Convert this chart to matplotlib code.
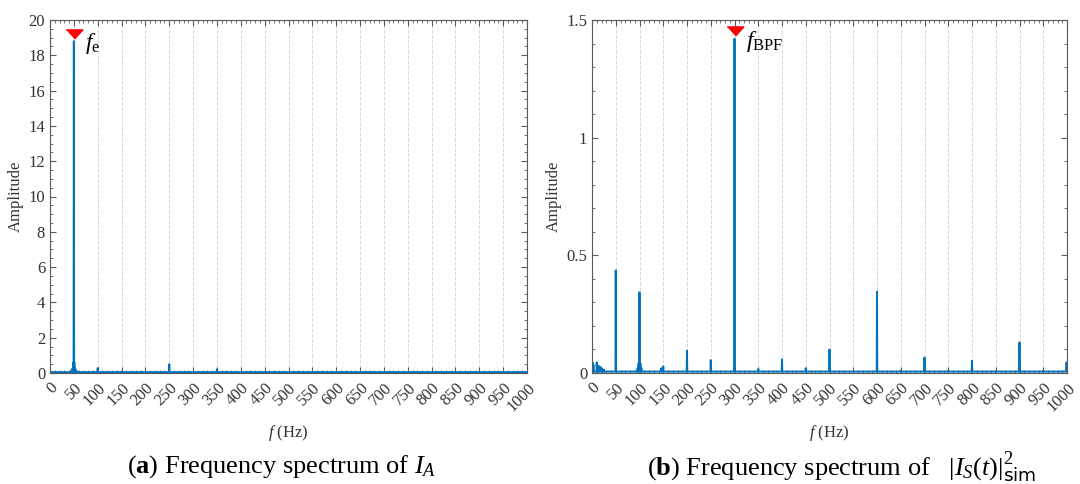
import numpy as np
import matplotlib.pyplot as plt
from matplotlib.ticker import MultipleLocator

# ============================================
# region 1. Data
ticks_f = np.arange(0, 1001, 50)

# (a) spectrum of I_A : peak frequency (Hz) and amplitude
peaks_a_f = [44, 47, 49, 50, 51, 53, 56, 100, 150, 250, 350, 450, 550]
peaks_a_amp = [0.12, 0.25, 0.6, 18.8, 0.6, 0.25, 0.12, 0.28, 0.08, 0.5, 0.2, 0.04, 0.03]
base_a = 0.05

# (b) spectrum of |I_S(t)|^2_sim
peaks_b_f = [1, 3, 10, 13, 16, 20, 25, 50, 96, 98, 100, 102, 104, 146, 150,
             200, 250, 300, 350, 400, 450, 500, 550, 600, 650, 700, 750,
             800, 850, 900, 950, 999]
peaks_b_amp = [0.045, 0.035, 0.045, 0.03, 0.028, 0.022, 0.015, 0.436, 0.02, 0.04, 0.343, 0.04, 0.02, 0.02, 0.028,
               0.095, 0.055, 1.42, 0.017, 0.058, 0.02, 0.1, 0.006, 0.345, 0.01, 0.066, 0.01,
               0.052, 0.008, 0.13, 0.01, 0.045]
base_b = 0.006

peak_a = (50, 18.8)
peak_b = (300, 1.42)
# endregion


# ============================================
# region 2. Helpers
def spectrum_line(pf, pa, base):
    # line that goes baseline -> peak -> baseline for every listed peak
    xs, ys = [0], [base]
    for f, a in zip(pf, pa):
        xs += [f - 0.6, f, f + 0.6]
        ys += [base, a, base]
    xs.append(1000)
    ys.append(base)
    return np.array(xs), np.array(ys)


plt.rcParams['font.family'] = ['Liberation Serif', 'DejaVu Serif']
plt.rcParams['mathtext.fontset'] = 'custom'
plt.rcParams['mathtext.rm'] = 'Liberation Serif'
plt.rcParams['mathtext.it'] = 'Liberation Serif:italic'
plt.rcParams['mathtext.bf'] = 'Liberation Serif:bold'
plt.rcParams['mathtext.sf'] = 'DejaVu Sans'

line_color = '#0072BD'
spine_color = '#5a5a5a'
text_color = '#333333'
flat_tri = [(-1, 0.55), (1, 0.55), (0, -0.55)]  # wide downward triangle


def style_axes(ax, ymax, ymajor, yminor):
    ax.set_xlim(0, 1000)
    ax.set_ylim(0, ymax)
    ax.set_xticks(ticks_f)
    ax.set_xticklabels([str(t) for t in ticks_f], rotation=45, ha='right',
                       rotation_mode='anchor', fontsize=12.5, color=text_color)
    ax.xaxis.set_minor_locator(MultipleLocator(10))
    ax.yaxis.set_major_locator(MultipleLocator(ymajor))
    ax.yaxis.set_minor_locator(MultipleLocator(yminor))
    ax.tick_params(which='both', direction='in', top=True, right=True,
                   color=spine_color, labelsize=12, labelcolor=text_color)
    ax.tick_params(which='major', length=4)
    ax.tick_params(which='minor', length=2)
    ax.tick_params(axis='x', pad=5)
    for s in ax.spines.values():
        s.set_color(spine_color)
        s.set_linewidth(0.8)
    ax.grid(True, axis='x', linestyle='--', color='#d9d9d9', linewidth=0.7)
    ax.set_axisbelow(True)
    ax.set_xlabel('$f$ (Hz)', fontsize=12, labelpad=6, color=text_color)
    ax.set_ylabel('Amplitude', fontsize=12, labelpad=3, color=text_color)
# endregion


# ============================================
# region 3. Plot
fig = plt.figure(figsize=(10.8, 4.84), dpi=100)
ax1 = fig.add_axes([50 / 1080, 1 - 373 / 484, 477 / 1080, 353 / 484])
ax2 = fig.add_axes([592 / 1080, 1 - 373 / 484, 475 / 1080, 353 / 484])

xa, ya = spectrum_line(peaks_a_f, peaks_a_amp, base_a)
ax1.plot(xa, ya, color=line_color, linewidth=1.4)
style_axes(ax1, 20, 2, 0.5)
ax1.plot(peak_a[0], 19.2, marker=flat_tri, color='red', markersize=12, linestyle='none')
ax1.text(peak_a[0] + 24, 18.65, r'$f_{\mathrm{e}}$', fontsize=17, va='center')
ax1.set_yticks(np.arange(0, 21, 2))
ax1.set_yticklabels([str(t) for t in range(0, 21, 2)])

xb, yb = spectrum_line(peaks_b_f, peaks_b_amp, base_b)
ax2.plot(xb, yb, color=line_color, linewidth=1.4)
style_axes(ax2, 1.5, 0.5, 0.1)
ax2.set_yticks([0, 0.5, 1, 1.5])
ax2.set_yticklabels(['0', '0.5', '1', '1.5'])
ax2.plot(peak_b[0], 1.452, marker=flat_tri, color='red', markersize=12, linestyle='none')
ax2.text(peak_b[0] + 24, 1.41, r'$f_{\mathrm{BPF}}$', fontsize=17, va='center')

fig.text(282 / 1080, 1 - 467 / 484, r'($\mathbf{a}$) Frequency spectrum of $I_{A}$',
         ha='center', va='center', fontsize=19)
fig.text(842 / 1080, 1 - 467 / 484, r'($\mathbf{b}$) Frequency spectrum of   $|I_S(t)|^2_{\mathsf{sim}}$',
         ha='center', va='center', fontsize=19)

fig.savefig('out.png', dpi=100)
# endregion
